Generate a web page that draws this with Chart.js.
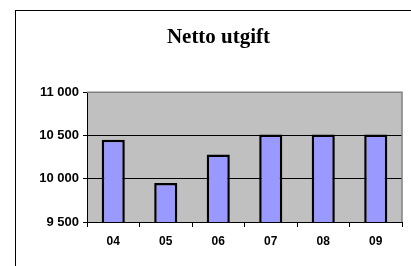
<!DOCTYPE html>
<html>
<head>
<meta charset="utf-8">
<script src="https://cdn.jsdelivr.net/npm/chart.js@4.4.1/dist/chart.umd.min.js"></script>
<style>
  html, body { margin: 0; padding: 0; background: #fff; overflow: hidden; }
  #frame { position: absolute; left: 15px; top: 10px; width: 500px; height: 400px;
           border-left: 1px solid #000; border-top: 1px solid #000; }
  #wrap { position: absolute; left: 0; top: 0; width: 437px; height: 266px; }
</style>
</head>
<body>
<div id="frame"></div>
<div id="wrap"><canvas id="myChart" width="437" height="266"></canvas></div>
<script>
const years = ["04", "05", "06", "07", "08", "09"];
const nettoUtgift = [10450, 9950, 10280, 10510, 10510, 10510];
const yTicks = [9500, 10000, 10500, 11000];

// gray plot background + gray top/right border
const plotBg = {
    id: 'plotBg',
    beforeDraw(chart) {
        const a = chart.chartArea;
        const ctx = chart.ctx;
        ctx.save();
        ctx.fillStyle = '#c0c0c0';
        ctx.fillRect(a.left, a.top, a.right - a.left, a.bottom - a.top);
        ctx.restore();
    },
    afterDatasetsDraw(chart) {
        const a = chart.chartArea;
        const ctx = chart.ctx;
        ctx.save();
        ctx.strokeStyle = '#808080';
        ctx.lineWidth = 1.5;
        ctx.beginPath();
        ctx.moveTo(a.left, a.top);
        ctx.lineTo(a.right, a.top);
        ctx.lineTo(a.right, a.bottom);
        ctx.stroke();
        ctx.restore();
    }
};

const tickFont = { family: '"Liberation Sans", Arial, sans-serif', weight: 'bold' };

const ctx = document.getElementById('myChart').getContext('2d');
const chart = new Chart(ctx, {
    type: 'bar',
    data: {
        labels: years,
        datasets: [{
            data: nettoUtgift,
            backgroundColor: '#9999ff',
            borderColor: '#000000',
            borderWidth: 2.5,
            borderSkipped: 'bottom',
            barPercentage: 0.44,
            categoryPercentage: 1
        }]
    },
    options: {
        responsive: false,
        animation: false,
        layout: { padding: 0 },
        plugins: {
            legend: { display: false },
            tooltip: { enabled: false },
            title: {
                display: true,
                text: 'Netto utgift',
                color: '#000',
                font: { family: '"Liberation Serif", "Times New Roman", serif', size: 21, weight: 'bold', lineHeight: 1.2 },
                padding: { top: 25, bottom: 42 }
            }
        },
        scales: {
            x: {
                offset: true,
                grid: { offset: true, drawOnChartArea: false, color: '#000', tickLength: 5 },
                border: { color: '#000', width: 1 },
                ticks: { color: '#000', padding: 7, font: Object.assign({ size: 12 }, tickFont) },
                afterFit: function(scale) { scale.height = 44; }
            },
            y: {
                min: 9500,
                max: 11000,
                afterBuildTicks: function(scale) { scale.ticks = yTicks.map(v => ({ value: v })); },
                grid: {
                    color: c => (c.tick && c.tick.value === 11000) ? '#808080' : '#000',
                    tickLength: 4,
                    tickColor: '#000'
                },
                border: { color: '#000', width: 1 },
                ticks: {
                    color: '#000',
                    padding: 4,
                    font: Object.assign({ size: 13 }, tickFont),
                    callback: function(v) { return String(v).replace(/\B(?=(\d{3})+(?!\d))/g, ' '); }
                },
                afterFit: function(scale) { scale.width = 87; }
            },
            // empty axis on the right, only keeps space so the plot stops at the same place
            spacer: {
                position: 'right',
                grid: { display: false },
                border: { display: false },
                ticks: { display: false },
                afterFit: function(scale) { scale.width = 35; }
            }
        }
    },
    plugins: [plotBg]
});
</script>
</body>
</html>
